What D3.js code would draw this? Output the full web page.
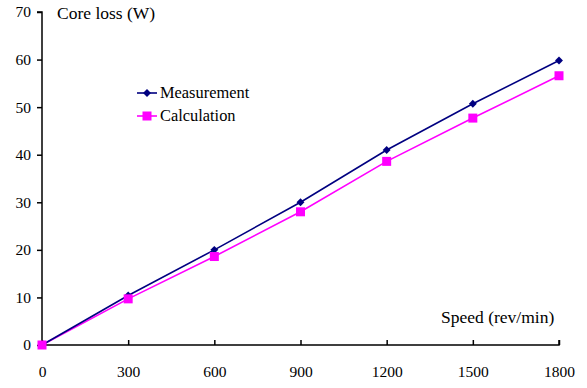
<!DOCTYPE html>
<html>
<head>
<meta charset="utf-8">
<script src="https://cdn.jsdelivr.net/npm/d3@7"></script>
<style>
  body { margin: 0; background: #fff; }
  text { font-family: "Liberation Serif", "Times New Roman", serif; fill: #000; }
</style>
</head>
<body>
<div id="chart"></div>
<script>
// data
const speeds = [0, 300, 600, 900, 1200, 1500, 1800];
const measurement = [0, 10.4, 20.0, 30.0, 41.0, 50.7, 59.8];
const calculation = [0, 9.7, 18.6, 28.0, 38.6, 47.7, 56.6];
const yTicks = [0, 10, 20, 30, 40, 50, 60, 70];
const seriesNames = ['Measurement', 'Calculation'];

const W = 587, H = 388;
const x = d3.scaleLinear().domain([0, 1800]).range([42, 559]);
const y = d3.scaleLinear().domain([0, 70]).range([345, 12]);

const svg = d3.select('#chart').append('svg')
  .attr('width', W)
  .attr('height', H);

// y axis, ticks point outward
const yAxis = svg.append('g')
  .attr('transform', `translate(${x(0)},0)`)
  .call(d3.axisLeft(y).tickValues(yTicks).tickSize(5).tickPadding(6));
yAxis.select('.domain').attr('d', `M-5,${y(70)}H0V${y(0)}`);

// x axis, ticks point inward
const xAxis = svg.append('g')
  .attr('transform', `translate(0,${y(0)})`)
  .call(d3.axisBottom(x).tickValues(speeds).tickFormat(d3.format('d')).tickSize(-5).tickPadding(21));
xAxis.select('.domain').attr('d', `M${x(0)},0H${x(1800)}V-5`);

svg.selectAll('.domain, .tick line').attr('stroke', '#000').attr('stroke-width', 1.5);
svg.selectAll('g').attr('font-family', null).attr('font-size', null);
svg.selectAll('.tick text').style('font-size', '15.5px');
xAxis.selectAll('.tick text').attr('dy', '0.71em');

// axis titles
svg.append('text').attr('x', 57).attr('y', 19).style('font-size', '17.5px').text('Core loss (W)');
svg.append('text').attr('x', 441).attr('y', 323).style('font-size', '17.5px').text('Speed (rev/min)');

const line = d3.line()
  .x((d, i) => x(speeds[i]))
  .y(d => y(d));

// calculation series
svg.append('path')
  .datum(calculation)
  .attr('fill', 'none')
  .attr('stroke', '#ff00ff')
  .attr('stroke-width', 1.6)
  .attr('d', line);

// measurement series
svg.append('path')
  .datum(measurement)
  .attr('fill', 'none')
  .attr('stroke', '#000080')
  .attr('stroke-width', 1.6)
  .attr('d', line);

svg.append('g').selectAll('path')
  .data(measurement)
  .join('path')
  .attr('transform', (d, i) => `translate(${x(speeds[i])},${y(d)})`)
  .attr('d', d3.symbol(d3.symbolDiamond2, 40))
  .attr('fill', '#000080');

svg.append('g').selectAll('rect')
  .data(calculation)
  .join('rect')
  .attr('x', (d, i) => x(speeds[i]) - 4.5)
  .attr('y', d => y(d) - 4.5)
  .attr('width', 9)
  .attr('height', 9)
  .attr('fill', '#ff00ff');

// legend
const legend = svg.append('g');
const legendY = [93, 116];
const legendColors = ['#000080', '#ff00ff'];
seriesNames.forEach((name, i) => {
  legend.append('line')
    .attr('x1', 137).attr('x2', 157)
    .attr('y1', legendY[i]).attr('y2', legendY[i])
    .attr('stroke', legendColors[i]).attr('stroke-width', 1.6);
  if (i === 0) {
    legend.append('path')
      .attr('transform', `translate(147,${legendY[i]})`)
      .attr('d', d3.symbol(d3.symbolDiamond2, 40))
      .attr('fill', legendColors[i]);
  } else {
    legend.append('rect')
      .attr('x', 142.5).attr('y', legendY[i] - 4.5)
      .attr('width', 9).attr('height', 9)
      .attr('fill', legendColors[i]);
  }
  legend.append('text')
    .attr('x', 160).attr('y', legendY[i] + 5)
    .style('font-size', '16.4px')
    .text(name);
});
</script>
</body>
</html>
